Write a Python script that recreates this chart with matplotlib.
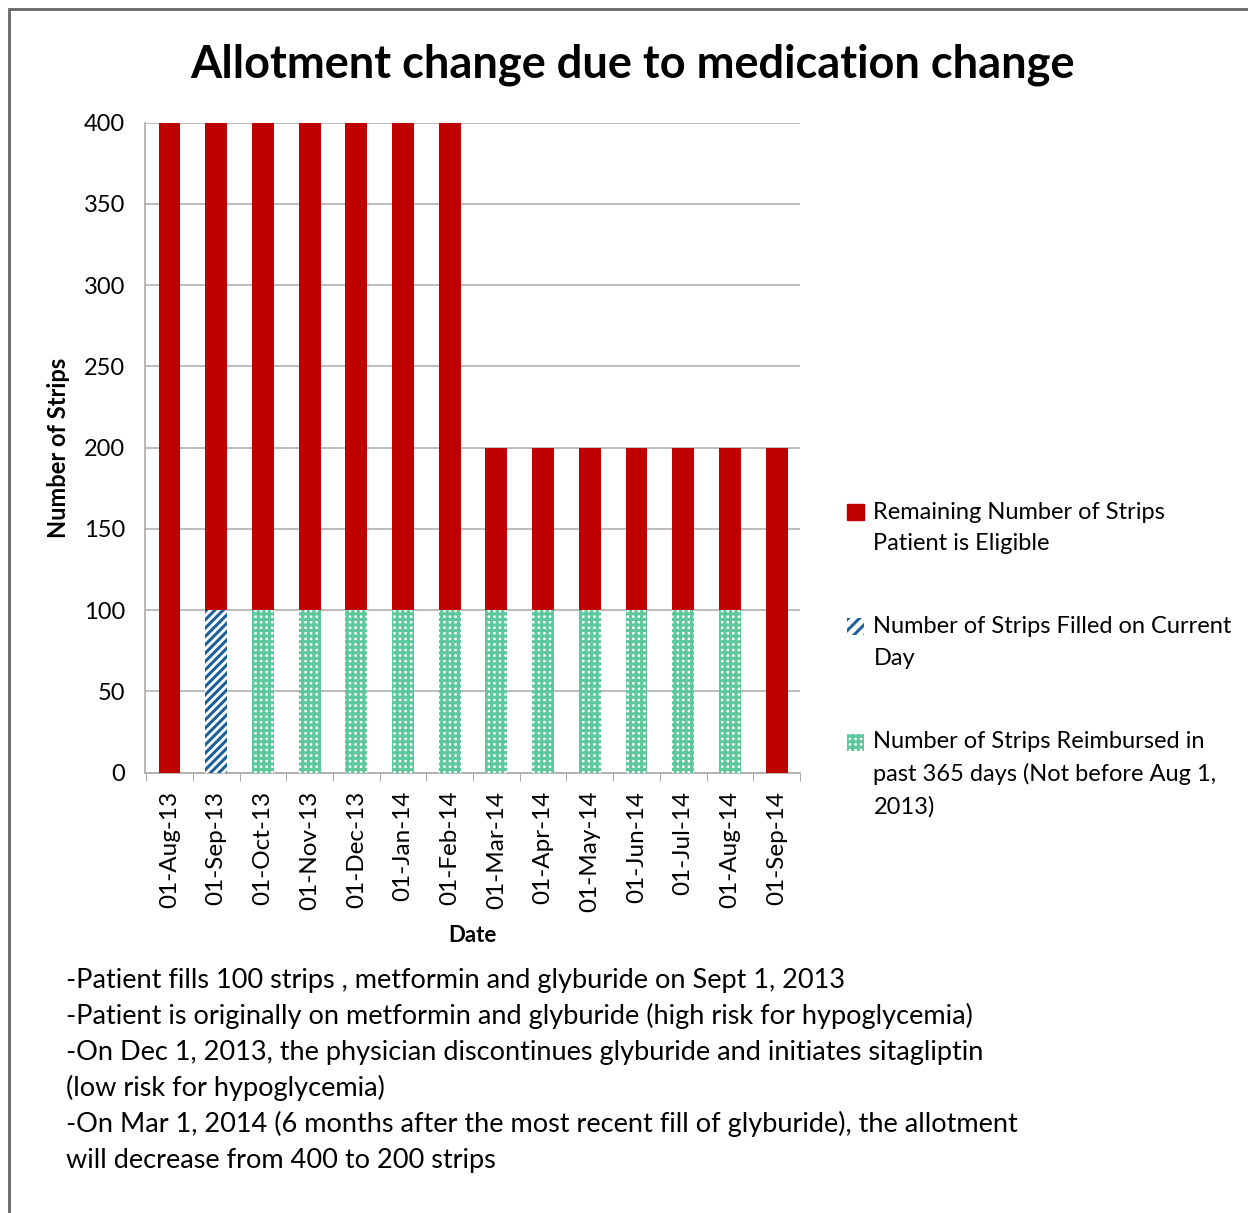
import matplotlib.pyplot as plt
from matplotlib.patches import Patch, Rectangle
from matplotlib.legend_handler import HandlerPatch
import numpy as np

plt.rcParams['font.family'] = ['Lato', 'DejaVu Sans']
plt.rcParams['hatch.linewidth'] = 2.2

dates = ['01-Aug-13', '01-Sep-13', '01-Oct-13', '01-Nov-13', '01-Dec-13', '01-Jan-14',
         '01-Feb-14', '01-Mar-14', '01-Apr-14', '01-May-14', '01-Jun-14', '01-Jul-14',
         '01-Aug-14', '01-Sep-14']
reimbursed = [0, 0, 100, 100, 100, 100, 100, 100, 100, 100, 100, 100, 100, 0]
filled = [0, 100, 0, 0, 0, 0, 0, 0, 0, 0, 0, 0, 0, 0]
remaining = [400, 300, 300, 300, 300, 300, 300, 100, 100, 100, 100, 100, 100, 200]

notes = ['-Patient fills 100 strips , metformin and glyburide on Sept 1, 2013',
         '-Patient is originally on metformin and glyburide (high risk for hypoglycemia)',
         '-On Dec 1, 2013, the physician discontinues glyburide and initiates sitagliptin',
         '(low risk for hypoglycemia)',
         '-On Mar 1, 2014 (6 months after the most recent fill of glyburide), the allotment',
         'will decrease from 400 to 200 strips']

red = '#c00000'
blue = '#1f5f9a'
green = '#5cc89c'

fig = plt.figure(figsize=(12.48, 12.13), dpi=100)
ax = fig.add_axes([0.116, 0.363, 0.525, 0.536])

x = np.arange(len(dates))
w = 0.47
bottom2 = np.array(reimbursed) + np.array(filled)
ax.bar(x, reimbursed, w, color='white', edgecolor=green, hatch='+++', linewidth=0, zorder=3)
ax.bar(x, filled, w, bottom=reimbursed, color='white', edgecolor=blue, hatch='////', linewidth=0, zorder=3)
ax.bar(x, remaining, w, bottom=bottom2, color=red, linewidth=0, zorder=3)

ax.set_xlim(-0.53, len(dates) - 0.53)
ax.set_ylim(0, 400)
ax.set_yticks(range(0, 401, 50))
ax.yaxis.grid(True, color='#b0b0b0', linewidth=1.2, zorder=0)
ax.set_xticks(x)
ax.set_xticklabels(dates, rotation=90, fontsize=17.5)
ax.set_xticks(np.arange(-0.5, len(dates), 1), minor=True)
ax.tick_params(axis='x', which='major', length=0, pad=13)
ax.tick_params(axis='x', which='minor', length=6, color='#999999')
ax.tick_params(axis='y', length=0, labelsize=17, pad=14)
for s in ['top', 'right']:
    ax.spines[s].set_visible(False)
ax.spines['left'].set_color('#aaaaaa')
ax.spines['bottom'].set_color('#aaaaaa')
ax.spines['left'].set_linewidth(1.2)
ax.spines['bottom'].set_linewidth(1.2)

ax.set_xlabel('Date', fontsize=16, fontweight='bold', labelpad=9)
ax.set_ylabel('Number of Strips', fontsize=17, fontweight='bold', labelpad=10)
fig.text(0.507, 0.947, 'Allotment change due to medication change', ha='center', va='center',
         fontsize=32.5, fontweight='bold')

labels = ['Remaining Number of Strips\nPatient is Eligible',
          'Number of Strips Filled on Current\nDay',
          'Number of Strips Reimbursed in\npast 365 days (Not before Aug 1,\n2013)']
handles = [Patch(facecolor=red, edgecolor=red, label=labels[0]),
           Patch(facecolor='white', edgecolor=blue, hatch='///', linewidth=0, label=labels[1]),
           Patch(facecolor='white', edgecolor=green, hatch='+++', linewidth=0, label=labels[2])]


def top_patch(legend, orig_handle, xdescent, ydescent, width, height, fontsize):
    # put the swatch level with the first line of a multi-line label
    shift = (orig_handle.get_label().count('\n')) * 11.5
    return Rectangle((-xdescent, -ydescent + shift), width, height)


leg = fig.legend(handles, labels, loc='upper left', bbox_to_anchor=(0.662, 0.604), frameon=False,
                 fontsize=17, labelspacing=2.65, handlelength=0.7, handleheight=0.7,
                 handletextpad=0.4, alignment='left',
                 handler_map={Patch: HandlerPatch(patch_func=top_patch)})
for t in leg.get_texts():
    t.set_linespacing(1.6)

for i, line in enumerate(notes):
    fig.text(0.053, 0.192 - i * 0.0297, line, fontsize=19.5, va='center')

fig.patches.append(Rectangle((0.0072, -0.1), 1.2, 1.0926, transform=fig.transFigure,
                             fill=False, edgecolor='#666666', linewidth=2))

fig.savefig('out.png', dpi=100)
